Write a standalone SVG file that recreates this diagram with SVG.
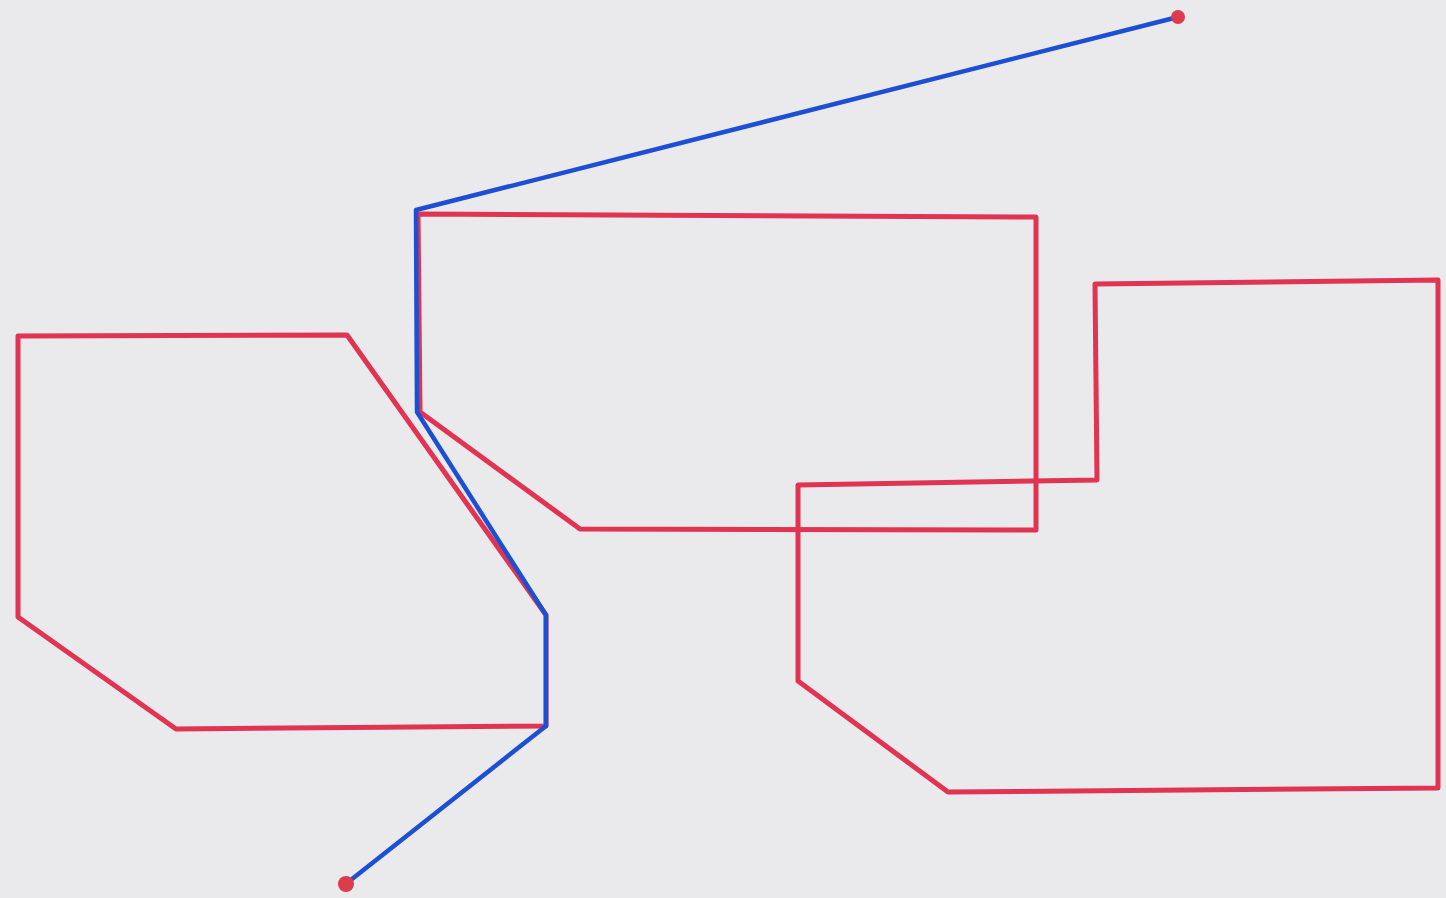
<svg xmlns="http://www.w3.org/2000/svg" width="1446" height="898" viewBox="0 0 1446 898">
<style>
.red{fill:none;stroke:#e03452;stroke-width:5;stroke-linejoin:round;stroke-linecap:round}
.blue{fill:none;stroke:#1c4fd2;stroke-width:4.5;stroke-linejoin:round;stroke-linecap:round}
.dot{fill:#dc3c4c}
</style>
<rect width="1446" height="898" fill="#eae9ec"/>
<g id="poly-left"><polygon class="red" points="18,336 347,335 546,615 546,726 176,729 18,617"/></g>
<g id="poly-middle"><polygon class="red" points="418,214 1036,217 1036,530 580,529 420,412"/></g>
<g id="poly-right"><polygon class="red" points="1095,284 1438,280 1438,788 948,792 798,681 798,485 1097,480"/></g>
<g id="connectors">
<polyline class="blue" points="1178,17 416,210 417,412 546,615 546,726 347,883"/>
<circle class="dot" cx="1178" cy="17" r="7"/>
<circle class="dot" cx="346" cy="884" r="8"/>
</g>
</svg>
